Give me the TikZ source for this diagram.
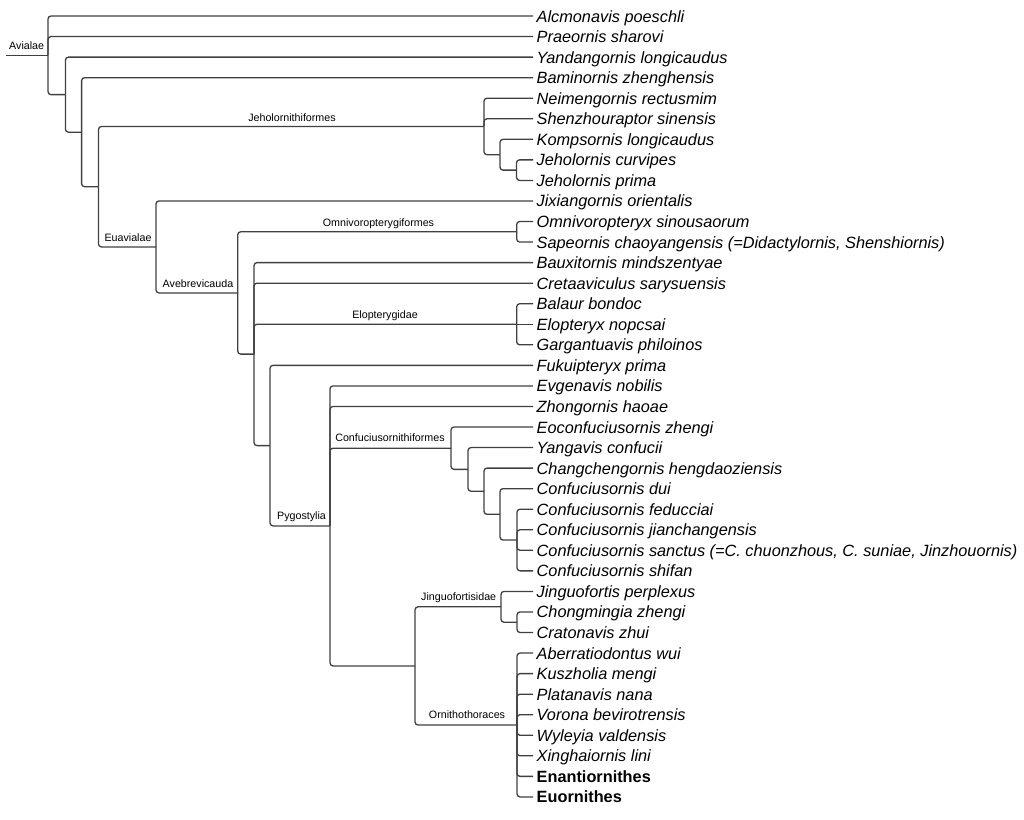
\documentclass[tikz,border=0pt]{standalone}
\usepackage{fontspec}
\setmainfont{Liberation Sans}
\begin{document}
\begin{tikzpicture}[x=1pt,y=-1pt,
  br/.style={draw=black!75, line width=1.3pt, rounded corners=3pt},
  leaf/.style={anchor=base west, inner sep=0pt, font=\fontsize{16.3}{18}\selectfont\itshape, yshift=-6pt, xshift=3.5pt},
  bleaf/.style={leaf, font=\fontsize{16.3}{18}\selectfont\bfseries},
  clade/.style={anchor=base, inner sep=0pt, font=\fontsize{10.7}{12}\selectfont}]
\useasboundingbox (0,0) rectangle (1024,819);
% leaves
\coordinate (l1) at (533,16.00);
\coordinate (l2) at (533,36.55);
\coordinate (l3) at (533,57.10);
\coordinate (l4) at (533,77.65);
\coordinate (l5) at (533,98.20);
\coordinate (l6) at (533,118.75);
\coordinate (l7) at (533,139.30);
\coordinate (l8) at (533,159.85);
\coordinate (l9) at (533,180.40);
\coordinate (l10) at (533,200.95);
\coordinate (l11) at (533,221.50);
\coordinate (l12) at (533,242.05);
\coordinate (l13) at (533,262.60);
\coordinate (l14) at (533,283.15);
\coordinate (l15) at (533,303.70);
\coordinate (l16) at (533,324.25);
\coordinate (l17) at (533,344.80);
\coordinate (l18) at (533,365.35);
\coordinate (l19) at (533,385.90);
\coordinate (l20) at (533,406.45);
\coordinate (l21) at (533,427.00);
\coordinate (l22) at (533,447.55);
\coordinate (l23) at (533,468.10);
\coordinate (l24) at (533,488.65);
\coordinate (l25) at (533,509.20);
\coordinate (l26) at (533,529.75);
\coordinate (l27) at (533,550.30);
\coordinate (l28) at (533,570.85);
\coordinate (l29) at (533,591.40);
\coordinate (l30) at (533,611.95);
\coordinate (l31) at (533,632.50);
\coordinate (l32) at (533,653.05);
\coordinate (l33) at (533,673.60);
\coordinate (l34) at (533,694.15);
\coordinate (l35) at (533,714.70);
\coordinate (l36) at (533,735.25);
\coordinate (l37) at (533,755.80);
\coordinate (l38) at (533,776.35);
\coordinate (l39) at (533,796.90);
\node[leaf] (t1) at (l1) {Alcmonavis poeschli};
\node[leaf] (t2) at (l2) {Praeornis sharovi};
\node[leaf] (t3) at (l3) {Yandangornis longicaudus};
\node[leaf] (t4) at (l4) {Baminornis zhenghensis};
\node[leaf] (t5) at (l5) {Neimengornis rectusmim};
\node[leaf] (t6) at (l6) {Shenzhouraptor sinensis};
\node[leaf] (t7) at (l7) {Kompsornis longicaudus};
\node[leaf] (t8) at (l8) {Jeholornis curvipes};
\node[leaf] (t9) at (l9) {Jeholornis prima};
\node[leaf] (t10) at (l10) {Jixiangornis orientalis};
\node[leaf] (t11) at (l11) {Omnivoropteryx sinousaorum};
\node[leaf] (t12) at (l12) {Sapeornis chaoyangensis (=Didactylornis, Shenshiornis)};
\node[leaf] (t13) at (l13) {Bauxitornis mindszentyae};
\node[leaf] (t14) at (l14) {Cretaaviculus sarysuensis};
\node[leaf] (t15) at (l15) {Balaur bondoc};
\node[leaf] (t16) at (l16) {Elopteryx nopcsai};
\node[leaf] (t17) at (l17) {Gargantuavis philoinos};
\node[leaf] (t18) at (l18) {Fukuipteryx prima};
\node[leaf] (t19) at (l19) {Evgenavis nobilis};
\node[leaf] (t20) at (l20) {Zhongornis haoae};
\node[leaf] (t21) at (l21) {Eoconfuciusornis zhengi};
\node[leaf] (t22) at (l22) {Yangavis confucii};
\node[leaf] (t23) at (l23) {Changchengornis hengdaoziensis};
\node[leaf] (t24) at (l24) {Confuciusornis dui};
\node[leaf] (t25) at (l25) {Confuciusornis feducciai};
\node[leaf] (t26) at (l26) {Confuciusornis jianchangensis};
\node[leaf] (t27) at (l27) {Confuciusornis sanctus (=C. chuonzhous, C. suniae, Jinzhouornis)};
\node[leaf] (t28) at (l28) {Confuciusornis shifan};
\node[leaf] (t29) at (l29) {Jinguofortis perplexus};
\node[leaf] (t30) at (l30) {Chongmingia zhengi};
\node[leaf] (t31) at (l31) {Cratonavis zhui};
\node[leaf] (t32) at (l32) {Aberratiodontus wui};
\node[leaf] (t33) at (l33) {Kuszholia mengi};
\node[leaf] (t34) at (l34) {Platanavis nana};
\node[leaf] (t35) at (l35) {Vorona bevirotrensis};
\node[leaf] (t36) at (l36) {Wyleyia valdensis};
\node[leaf] (t37) at (l37) {Xinghaiornis lini};
\node[bleaf] (t38) at (l38) {Enantiornithes};
\node[bleaf] (t39) at (l39) {Euornithes};
% internal nodes
\coordinate (r0) at (6,55.32);
\coordinate (A) at (48,55.32);
\coordinate (B) at (65.4,94.64);
\coordinate (C) at (81.6,132.18);
\coordinate (D) at (98.5,186.7);
\coordinate (J) at (484,126.46);
\coordinate (J2) at (500,154.71);
\coordinate (J3) at (516.5,170.125);
\coordinate (E) at (156,246.95);
\coordinate (F) at (237.7,292.94);
\coordinate (O) at (516.7,231.78);
\coordinate (G) at (254,354.1);
\coordinate (EL) at (516.7,324.25);
\coordinate (P) at (270,445.6);
\coordinate (Q) at (330,525.9);
\coordinate (CF) at (451,448.19);
\coordinate (CF2) at (468,469.39);
\coordinate (CF3) at (484,491.22);
\coordinate (CF4) at (500,514.34);
\coordinate (CF5) at (517,540.03);
\coordinate (R) at (415,665.9);
\coordinate (JF) at (501,606.81);
\coordinate (JF2) at (517,622.23);
\coordinate (OT) at (517,724.98);
% branches
\draw[br] (r0) -- (A);
\foreach \c in {l1,l2,B} \draw[br] (A) |- (\c);
\foreach \c in {l3,C} \draw[br] (B) |- (\c);
\foreach \c in {l4,D} \draw[br] (C) |- (\c);
\foreach \c in {J,E} \draw[br] (D) |- (\c);
\foreach \c in {l5,l6,J2} \draw[br] (J) |- (\c);
\foreach \c in {l7,J3} \draw[br] (J2) |- (\c);
\foreach \c in {l8,l9} \draw[br] (J3) |- (\c);
\foreach \c in {l10,F} \draw[br] (E) |- (\c);
\foreach \c in {O,G} \draw[br] (F) |- (\c);
\foreach \c in {l11,l12} \draw[br] (O) |- (\c);
\foreach \c in {l13,l14,EL,P} \draw[br] (G) |- (\c);
\foreach \c in {l15,l17} \draw[br] (EL) |- (\c);
\draw[br] (EL) -- (l16);
\foreach \c in {l18,Q} \draw[br] (P) |- (\c);
\foreach \c in {l19,l20,CF,R} \draw[br] (Q) |- (\c);
\foreach \c in {l21,CF2} \draw[br] (CF) |- (\c);
\foreach \c in {l22,CF3} \draw[br] (CF2) |- (\c);
\foreach \c in {l23,CF4} \draw[br] (CF3) |- (\c);
\foreach \c in {l24,CF5} \draw[br] (CF4) |- (\c);
\foreach \c in {l25,l26,l27,l28} \draw[br] (CF5) |- (\c);
\foreach \c in {JF,OT} \draw[br] (R) |- (\c);
\foreach \c in {l29,JF2} \draw[br] (JF) |- (\c);
\foreach \c in {l30,l31} \draw[br] (JF2) |- (\c);
\foreach \c in {l32,l33,l34,l35,l36,l37,l38,l39} \draw[br] (OT) |- (\c);
% clade labels
\node[clade] (nAvi) at (26.7,49.5) {Avialae};
\node[clade] (nJeh) at (292,121) {Jeholornithiformes};
\node[clade] (nEua) at (128,241.5) {Euavialae};
\node[clade] (nAve) at (198,287) {Avebrevicauda};
\node[clade] (nOmn) at (378.5,226) {Omnivoropterygiformes};
\node[clade] (nElo) at (385,318) {Elopterygidae};
\node[clade] (nPyg) at (301.5,519.5) {Pygostylia};
\node[clade] (nCon) at (390,441.5) {Confuciusornithiformes};
\node[clade] (nJin) at (458.7,600.5) {Jinguofortisidae};
\node[clade] (nOrn) at (467,718.7) {Ornithothoraces};
\end{tikzpicture}
\end{document}
